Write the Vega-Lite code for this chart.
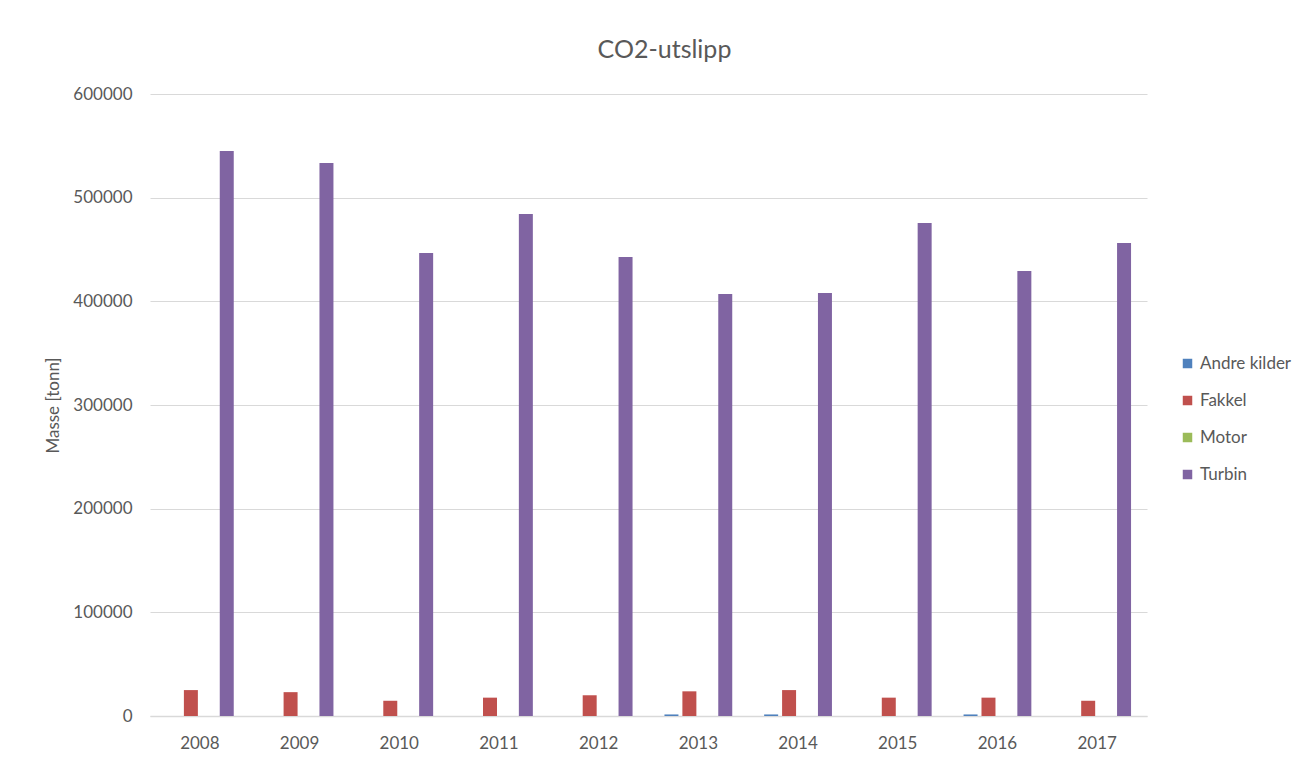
{
  "$schema": "https://vega.github.io/schema/vega-lite/v6.json",
  "autosize": "none",
  "width": 997,
  "height": 622,
  "padding": {"left": 150, "top": 94, "right": 159, "bottom": 44},
  "background": "white",
  "title": {"text": "CO2-utslipp", "fontSize": 25, "font": "Lato", "fontWeight": "normal", "color": "#595959", "anchor": "middle", "dx": 16, "offset": 22},
  "data": {"values": [
    {"year": "2008", "kilde": "Andre kilder", "masse": 0},
    {"year": "2008", "kilde": "Fakkel", "masse": 25000},
    {"year": "2008", "kilde": "Motor", "masse": 0},
    {"year": "2008", "kilde": "Turbin", "masse": 545000},
    {"year": "2009", "kilde": "Andre kilder", "masse": 0},
    {"year": "2009", "kilde": "Fakkel", "masse": 23000},
    {"year": "2009", "kilde": "Motor", "masse": 0},
    {"year": "2009", "kilde": "Turbin", "masse": 533500},
    {"year": "2010", "kilde": "Andre kilder", "masse": 0},
    {"year": "2010", "kilde": "Fakkel", "masse": 14700},
    {"year": "2010", "kilde": "Motor", "masse": 0},
    {"year": "2010", "kilde": "Turbin", "masse": 446600},
    {"year": "2011", "kilde": "Andre kilder", "masse": 0},
    {"year": "2011", "kilde": "Fakkel", "masse": 17700},
    {"year": "2011", "kilde": "Motor", "masse": 0},
    {"year": "2011", "kilde": "Turbin", "masse": 484200},
    {"year": "2012", "kilde": "Andre kilder", "masse": 0},
    {"year": "2012", "kilde": "Fakkel", "masse": 20000},
    {"year": "2012", "kilde": "Motor", "masse": 0},
    {"year": "2012", "kilde": "Turbin", "masse": 442700},
    {"year": "2013", "kilde": "Andre kilder", "masse": 1500},
    {"year": "2013", "kilde": "Fakkel", "masse": 23800},
    {"year": "2013", "kilde": "Motor", "masse": 0},
    {"year": "2013", "kilde": "Turbin", "masse": 407100},
    {"year": "2014", "kilde": "Andre kilder", "masse": 1500},
    {"year": "2014", "kilde": "Fakkel", "masse": 25000},
    {"year": "2014", "kilde": "Motor", "masse": 0},
    {"year": "2014", "kilde": "Turbin", "masse": 408000},
    {"year": "2015", "kilde": "Andre kilder", "masse": 0},
    {"year": "2015", "kilde": "Fakkel", "masse": 17700},
    {"year": "2015", "kilde": "Motor", "masse": 0},
    {"year": "2015", "kilde": "Turbin", "masse": 475500},
    {"year": "2016", "kilde": "Andre kilder", "masse": 1500},
    {"year": "2016", "kilde": "Fakkel", "masse": 17700},
    {"year": "2016", "kilde": "Motor", "masse": 0},
    {"year": "2016", "kilde": "Turbin", "masse": 429200},
    {"year": "2017", "kilde": "Andre kilder", "masse": 0},
    {"year": "2017", "kilde": "Fakkel", "masse": 14700},
    {"year": "2017", "kilde": "Motor", "masse": 0},
    {"year": "2017", "kilde": "Turbin", "masse": 456300}
  ]},
  "mark": {"type": "bar"},
  "encoding": {
    "x": {
      "field": "year", "type": "nominal",
      "scale": {"paddingInner": 0.32, "paddingOuter": 0.16},
      "axis": {"title": null, "labelAngle": 0, "ticks": false, "domainColor": "#D9D9D9", "domainWidth": 1.5, "labelFont": "Lato", "labelFontSize": 17, "labelColor": "#595959", "labelPadding": 19}
    },
    "xOffset": {"field": "kilde", "type": "nominal", "scale": {"paddingInner": 0.22, "paddingOuter": 0}},
    "y": {
      "field": "masse", "type": "quantitative",
      "scale": {"domain": [0, 600000], "nice": false},
      "axis": {"title": "Masse [tonn]", "values": [0, 100000, 200000, 300000, 400000, 500000, 600000], "format": "d", "domain": false, "ticks": false, "gridColor": "#D9D9D9", "gridWidth": 1.2, "labelFont": "Lato", "labelFontSize": 17, "labelColor": "#595959", "labelPadding": 18, "titleFont": "Lato", "titleFontSize": 17, "titleFontWeight": "normal", "titleColor": "#595959", "titlePadding": 10}
    },
    "color": {
      "field": "kilde", "type": "nominal",
      "scale": {"domain": ["Andre kilder", "Fakkel", "Motor", "Turbin"], "range": ["#4F81BD", "#C0504D", "#9BBB59", "#8064A2"]},
      "legend": {"title": null, "orient": "none", "legendX": 1029, "legendY": 261, "symbolType": "square", "symbolSize": 90, "symbolStrokeWidth": 0, "labelFont": "Lato", "labelFontSize": 17, "labelColor": "#595959", "rowPadding": 19, "labelOffset": 4}
    }
  },
  "config": {"view": {"stroke": null}}
}
